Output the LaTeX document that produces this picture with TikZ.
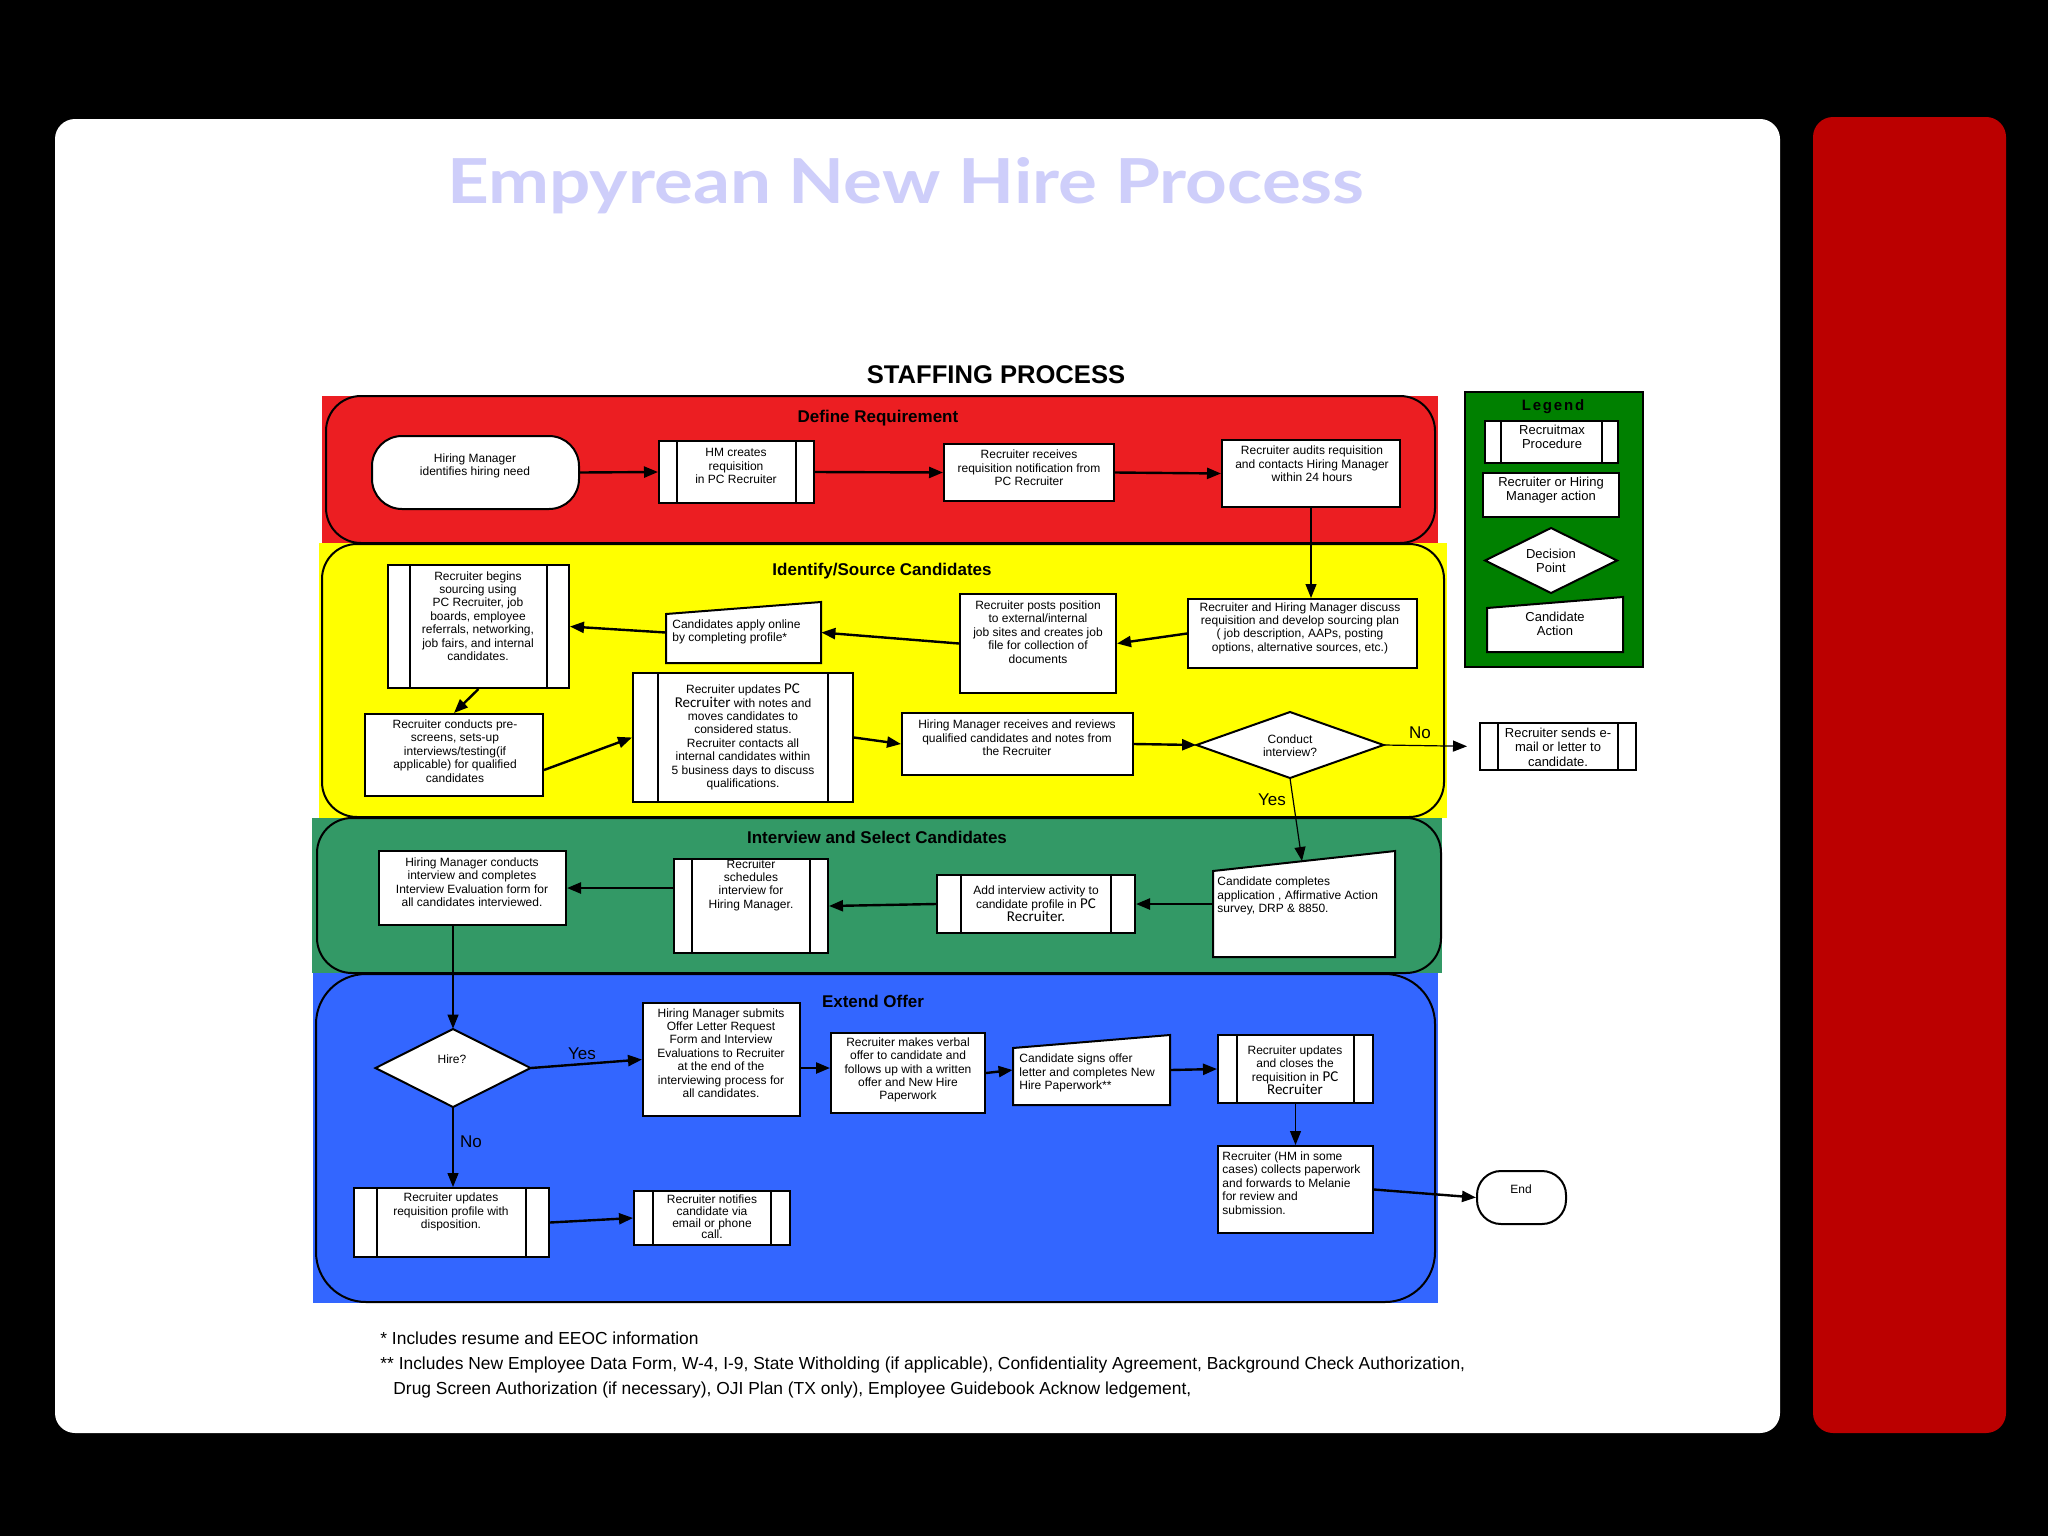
\documentclass[tikz,border=0pt]{standalone}
\usepackage{graphicx}
\usepackage{fontspec}
\setmainfont{Liberation Sans}
\newfontfamily\titlefont{Lato}
\newfontfamily\calfont{Carlito}
\usetikzlibrary{arrows.meta,fit,calc,shapes.geometric}
\definecolor{lanered}{RGB}{236,30,34}
\definecolor{laneyel}{RGB}{255,255,0}
\definecolor{lanegreen}{RGB}{51,153,102}
\definecolor{laneblue}{RGB}{51,102,255}
\definecolor{leggreen}{RGB}{0,128,0}
\definecolor{barred}{RGB}{187,0,0}
\definecolor{titlecol}{RGB}{206,206,250}
\newcommand\abox[5]{\node[boxs,fit={(#2,#3) (#4,#5)}] (#1) {};}
\newcommand\pbox[6]{\abox{#1}{#2}{#3}{#4}{#5}%
  \draw[line width=1pt] ($(#1.north west)+(#6,0)$) -- ($(#1.south west)+(#6,0)$)
    ($(#1.north east)+(-#6,0)$) -- ($(#1.south east)+(-#6,0)$);}
\newcommand\minput[6]{\draw[boxs] (#2,#3) -- (#4,#5) -- (#4,#6) -- (#2,#6) -- cycle;%
  \node[inner sep=0pt,fit={(#2,#5) (#4,#6)}] (#1) {};}
\newcommand\dmd[5]{\draw[boxs] (#2-#4,#3) -- (#2,#3-#5) -- (#2+#4,#3) -- (#2,#3+#5) -- cycle;%
  \node[inner sep=0pt,fit={(#2-#4,#3-#5) (#2+#4,#3+#5)}] (#1) {};}
\newcommand\pcr[1]{{\calfont\fontsize{7.5}{8}\selectfont #1}}
\begin{document}
\begin{tikzpicture}[x=0.5pt,y=-0.5pt,
  boxs/.style={draw,fill=white,line width=1pt,inner sep=0pt},
  txt/.style={font=\fontsize{6}{6.7}\selectfont,align=center,inner sep=0pt},
  txtl/.style={txt,align=left},
  lgtxt/.style={font=\fontsize{6.5}{7.2}\selectfont,align=center,inner sep=0pt},
  lanet/.style={font=\bfseries\fontsize{8.5}{10}\selectfont,inner sep=0pt,anchor=base},
  yn/.style={font=\fontsize{8.5}{10}\selectfont,inner sep=0pt},
  arr/.style={line width=1.2pt,-{Triangle[length=7pt,width=5.5pt]}},
  tarr/.style={line width=0.6pt,-{Triangle[length=7pt,width=5.5pt]}},
  foot/.style={font=\fontsize{8.7}{10}\selectfont,inner sep=0pt,anchor=base west}]
\useasboundingbox (0,0) rectangle (2048,1536);
\fill[black] (0,0) rectangle (2048,1536);
\fill[white,rounded corners=10pt] (55,119) rectangle (1780,1433);
\fill[barred,rounded corners=10pt] (1813,117) rectangle (2006,1433);
% title
\node[anchor=base west,inner sep=0pt,text=titlecol] (title) at (447,203)
  {\resizebox{458.5pt}{23pt}{\titlefont\bfseries Empyrean New Hire Process}};
\node[anchor=base,inner sep=0pt,font=\bfseries\fontsize{12.8}{14}\selectfont] (staff) at (996,383) {STAFFING PROCESS};
% lane backgrounds
\fill[lanered] (322,396) rectangle (1438,545);
\fill[laneyel] (319,543) rectangle (1447,818);
\fill[lanegreen] (312,818) rectangle (1442,973);
\fill[laneblue] (313,973) rectangle (1438,1303);
\draw[fill=lanered,line width=1pt,rounded corners=17.5pt] (326,396) rectangle (1435,543);
\draw[fill=laneyel,line width=1pt,rounded corners=17.5pt] (322,544) rectangle (1444,817);
\draw[fill=lanegreen,line width=1pt,rounded corners=17.5pt] (317,818) rectangle (1441,973);
\draw[fill=laneblue,line width=1pt,rounded corners=25pt] (316,974) rectangle (1435,1302);
\node[lanet] (lt1) at (878,422) {Define Requirement};
\node[lanet] (lt2) at (882,575) {Identify/Source Candidates};
\node[lanet] (lt3) at (877,843) {Interview and Select Candidates};
\node[lanet] (lt4) at (873,1007) {Extend Offer};
% Define requirement
\node[boxs,rounded corners=15pt,fit={(372,436) (579,509)}] (t1) {};
\node[txt] at (475,466) {Hiring Manager\\identifies hiring need};
\pbox{p1}{659}{441}{814}{503}{19}
\node[txt] at (736,466) {HM creates\\requisition\\in PC Recruiter};
\abox{a1}{944}{444}{1114}{501}
\node[txt] at (1029,468) {Recruiter receives\\requisition notification from\\PC Recruiter};
\abox{a2}{1222}{440}{1400}{507}
\node[txt] at (1312,464) {Recruiter audits requisition\\and contacts Hiring Manager\\within 24 hours};
% Identify
\pbox{p2}{388}{565}{569}{688}{23}
\node[txt] at (478,616) {Recruiter begins\\sourcing using\\PC Recruiter, job\\boards, employee\\referrals, networking,\\job fairs, and internal\\candidates.};
\minput{c1}{666}{614}{821}{602}{663}
\node[txtl,anchor=west] at (672,632) {Candidates apply online\\by completing profile*};
\abox{a3}{960}{594}{1116}{693}
\node[txt] at (1038,632) {Recruiter posts position\\to external/internal\\job sites and creates job\\file for collection of\\documents};
\abox{a4}{1188}{599}{1417}{668}
\node[txt] at (1300,628) {Recruiter and Hiring Manager discuss\\requisition and develop sourcing plan\\( job description, AAPs, posting\\options, alternative sources, etc.)};
\abox{a5}{365}{714}{543}{796}
\node[txt] at (455,751) {Recruiter conducts pre-\\screens, sets-up\\interviews/testing(if\\applicable) for qualified\\candidates};
\pbox{p3}{633}{673}{853}{802}{26}
\node[txt] at (743,737) {Recruiter updates \pcr{PC}\\\pcr{Recruiter} with notes and\\moves candidates to\\considered status.\\Recruiter contacts all\\internal candidates within\\5 business days to discuss\\qualifications.};
\abox{a6}{902}{713}{1133}{775}
\node[txt] at (1017,738) {Hiring Manager receives and reviews\\qualified candidates and notes from\\the Recruiter};
\dmd{d1}{1290}{745}{93.5}{33}
\node[txt] at (1290,746) {Conduct\\interview?};
\pbox{p4}{1480}{723}{1636}{770}{19}
\node[lgtxt] at (1558,747) {Recruiter sends e-\\mail or letter to\\candidate.};
\node[yn] at (1420,733) {No};
\node[yn] at (1272,800) {Yes};
% Interview
\minput{c2}{1213}{871}{1395}{851}{957}
\node[txtl,anchor=west] at (1217,896) {Candidate completes\\application , Affirmative Action\\survey, DRP \& 8850.};
\pbox{p5}{937}{875}{1135}{933}{25}
\node[txt] at (1036,904) {Add interview activity to\\candidate profile in \pcr{PC}\\\pcr{Recruiter.}};
\pbox{p6}{674}{859}{828}{953}{19}
\node[txt] at (751,885) {Recruiter\\schedules\\interview for\\Hiring Manager.};
\abox{a7}{379}{851}{566}{925}
\node[txt] at (472,882) {Hiring Manager conducts\\interview and completes\\Interview Evaluation form for\\all candidates interviewed.};
% Extend offer
\dmd{d2}{453}{1068}{77.5}{39}
\node[txt] at (452,1059) {Hire?};
\abox{a8}{643}{1003}{800}{1116}
\node[txt] at (721,1053) {Hiring Manager submits\\Offer Letter Request\\Form and Interview\\Evaluations to Recruiter\\at the end of the\\interviewing process for\\all candidates.};
\abox{a9}{831}{1033}{985}{1113}
\node[txt] at (908,1070) {Recruiter makes verbal\\offer to candidate and\\follows up with a written\\offer and New Hire\\Paperwork};
\minput{c3}{1013}{1048}{1170}{1035}{1105}
\node[txtl,anchor=west] at (1019,1073) {Candidate signs offer\\letter and completes New\\Hire Paperwork**};
\pbox{p7}{1218}{1035}{1373}{1103}{20}
\node[txt] at (1295,1070) {Recruiter updates\\and closes the\\requisition in \pcr{PC}\\\pcr{Recruiter}};
\abox{a10}{1218}{1146}{1373}{1233}
\node[txtl,anchor=west] at (1222,1183) {Recruiter (HM in some\\cases) collects paperwork\\and forwards to Melanie\\for review and\\submission.};
\node[boxs,rounded corners=12pt,fit={(1477,1171) (1566,1224)}] (t2) {};
\node[txt] at (1521,1189) {End};
\pbox{p8}{354}{1188}{549}{1257}{24}
\node[txt] at (451,1212) {Recruiter updates\\requisition profile with\\disposition.};
\pbox{p9}{634}{1191}{790}{1245}{20}
\node[txt,font=\fontsize{6}{5.8}\selectfont] at (712,1217) {Recruiter notifies\\candidate via\\email or phone\\call.};
\node[yn] at (582,1054) {Yes};
\node[yn] at (471,1142) {No};
% Legend
\node[fill=leggreen,draw,line width=1pt,inner sep=0pt,fit={(1465,392) (1643,667)}] (leg) {};
\node[anchor=base,inner sep=0pt,font=\bfseries\fontsize{7.5}{9}\selectfont\addfontfeature{LetterSpace=12}] at (1553,410) {Legend};
\pbox{lg1}{1485}{421}{1618}{463}{17}
\node[lgtxt] at (1552,437) {Recruitmax\\Procedure};
\abox{lg2}{1483}{473}{1619}{517}
\node[lgtxt] at (1551,490) {Recruiter or Hiring\\Manager action};
\dmd{lg3}{1551}{560.5}{66}{32.5}
\node[lgtxt] at (1551,561) {Decision\\Point};
\minput{lg4}{1487}{608}{1623}{597}{652}
\node[lgtxt] at (1555,624) {Candidate\\Action};
% connectors
\draw[arr] (t1.east) -- (p1.west);
\draw[arr] (p1.east) -- (a1.west);
\draw[arr] (a1.east) -- (a2.west);
\draw[tarr] (a2.south) -- (a2.south |- a4.north);
\draw[arr] (a4.west) -- (a3.east);
\draw[arr] (a3.west) -- (c1.east);
\draw[arr] (c1.west) -- (p2.east);
\draw[arr] (p2.south) -- (a5.north);
\draw[arr] ($(a5.east)+(0,15)$) -- (p3.west);
\draw[arr] (p3.east) -- (a6.west);
\draw[arr] (a6.east) -- (d1.west);
\draw[tarr,shorten >=6pt] (d1.east) -- (p4.west);
\coordinate (c2top) at (1302,861);
\draw[tarr] (d1.south) -- (c2top);
\draw[arr] (c2.west) -- (p5.east);
\draw[arr] (p5.west) -- (p6.east);
\draw[arr] (a7.east -| p6.west) -- (a7.east);
\draw[tarr] (d2.north |- a7.south) -- (d2.north);
\draw[arr] (d2.east) -- (a8.west);
\coordinate (a9w) at ($(a9.west)+(0,-5)$);
\draw[arr] (a8.east |- a9w) -- (a9w);
\draw[arr] (a9.east) -- (c3.west);
\draw[arr] (c3.east) -- (p7.west);
\draw[tarr] (p7.south) -- (a10.north);
\draw[arr] (a10.east) -- (t2.west);
\draw[tarr] (d2.south) -- (d2.south |- p8.north);
\draw[arr] (p8.east) -- (p9.west);
% footnotes
\node[foot] (f1) at (380,1344) {* Includes resume and EEOC information};
\node[foot] (f2) at (380,1369) {** Includes New Employee Data Form, W-4, I-9, State Witholding (if applicable), Confidentiality Agreement, Background Check Authorization,};
\node[foot] (f3) at (393,1394) {Drug Screen Authorization (if necessary), OJI Plan (TX only), Employee Guidebook Acknow ledgement,};
\end{tikzpicture}
\end{document}
